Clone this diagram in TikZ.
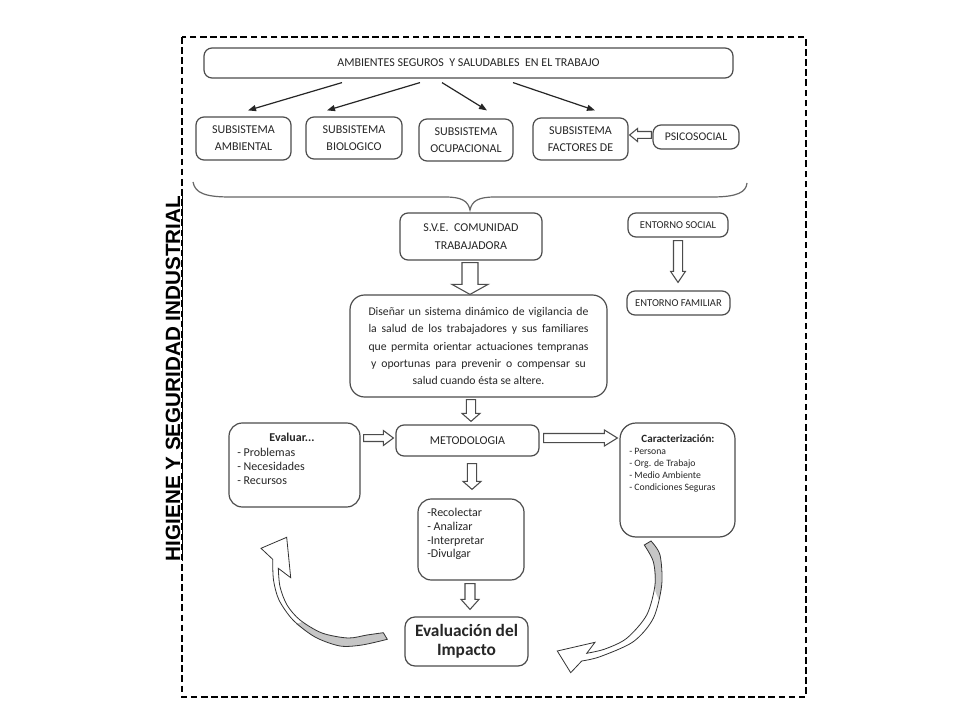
\documentclass[tikz,border=0pt]{standalone}
\usepackage{fontspec}
\setmainfont{Carlito}
\newfontfamily\arialb{Liberation Sans}
\usetikzlibrary{calc,arrows.meta}
\newcommand\blkarrow[5]{%
  \path ($(#2)!#5!(#1)$) coordinate (blkH);
  \draw[blk] ($(#1)!#3!90:(#2)$) -- ($(blkH)!#3!90:(#2)$) -- ($(blkH)!#4!90:(#2)$) -- (#2) -- ($(blkH)!#4!-90:(#2)$) -- ($(blkH)!#3!-90:(#2)$) -- ($(#1)!#3!-90:(#2)$) -- cycle;
}
\begin{document}
\begin{tikzpicture}[x=0.75pt,y=-0.75pt,
  box/.style={draw=black!70, line width=0.9pt, rounded corners=6pt, fill=white, inner sep=0pt, align=center, text=black!85},
  blk/.style={draw=black!70, line width=0.8pt, fill=white, line join=miter},
  arr/.style={draw=black!85, line width=0.9pt, -{Triangle[length=6pt,width=4.5pt]}},
  txt/.style={inner sep=0pt, text=black!85},
  fnine/.style={font=\fontsize{9}{12.75}\selectfont},
  flist/.style={font=\fontsize{9}{11}\selectfont},
  fcar/.style={font=\fontsize{7.3}{9}\selectfont},
  curv/.style={draw=black!80, line width=0.6pt, line join=miter},
]
\useasboundingbox (0,0) rectangle (960,720);
\fill[white] (0,0) rectangle (960,720);

% dashed frame
\draw[line width=1.5pt, dash pattern=on 5pt off 2.6pt] (182,37) rectangle (806,697);

% vertical title
\node[rotate=90, anchor=base, inner sep=0pt, font=\arialb\bfseries\fontsize{15.5}{18}\selectfont] (title) at (180,378.5) {\underline{HIGIENE Y SEGURIDAD INDUSTRIAL}};

% top row
\node[box, minimum width=396.75pt, minimum height=22.5pt, font=\fontsize{9}{11}\selectfont] (top) at (468.5,63) {AMBIENTES SEGUROS\ \ Y SALUDABLES\ \ EN EL TRABAJO};
\node[box, minimum width=71.25pt, minimum height=32.25pt, fnine] (sub1) at (243.5,138.5) {SUBSISTEMA\\AMBIENTAL};
\node[box, minimum width=72pt, minimum height=31.5pt, fnine] (sub2) at (354,138) {SUBSISTEMA\\BIOLOGICO};
\node[box, minimum width=70.5pt, minimum height=31.5pt, fnine] (sub3) at (466,140) {SUBSISTEMA\\OCUPACIONAL};
\node[box, minimum width=71.25pt, minimum height=31.5pt, fnine] (sub4) at (580.5,139) {SUBSISTEMA\\FACTORES DE};
\node[box, minimum width=64.5pt, minimum height=18pt, font=\fontsize{8.8}{10}\selectfont] (psico) at (696,137) {PSICOSOCIAL};

\draw[arr] ($(top.south)+(-126.5,4)$) -- ($(sub1.north)+(4.5,-6)$);
\draw[arr] ($(top.south)+(-48.5,4)$) -- ($(sub2.north)+(-27,-6)$);
\draw[arr] ($(top.south)+(-26.5,4)$) -- ($(sub3.north)+(21,-8)$);
\draw[arr] ($(top.south)+(44.5,4)$) -- ($(sub4.north)+(14.5,-7)$);

\coordinate (ps1) at ($(psico.west)+(-1,-2)$);
\coordinate (ps2) at ($(sub4.east)+(1,-4)$);
\blkarrow{ps1}{ps2}{2.6pt}{4.9pt}{6pt}

% brace
\draw[black!60, line width=0.9pt] (193,182) .. controls (195,193) and (205,197) .. (230,197) -- (445,197) .. controls (462,197) and (468,201) .. (470,210) .. controls (472,201) and (478,197) .. (495,197) -- (712,197) .. controls (738,197) and (746,192) .. (747,183);

% middle
\node[box, minimum width=106.5pt, minimum height=35.25pt, font=\fontsize{9}{13.5}\selectfont] (sve) at (471,236.5) {S.V.E.\ \ COMUNIDAD\\TRABAJADORA};
\node[box, minimum width=75pt, minimum height=18pt, font=\fontsize{7.9}{9}\selectfont] (esoc) at (678,225) {ENTORNO SOCIAL};
\node[box, minimum width=77.25pt, minimum height=18pt, font=\fontsize{7.9}{9}\selectfont] (efam) at (678.5,303) {ENTORNO FAMILIAR};
\node[box, rounded corners=11pt, minimum width=192.75pt, minimum height=76.5pt, font=\fontsize{8.8}{13.1}\selectfont] (dis) at (478.5,346) {%
\makebox[165pt][s]{Diseñar un sistema dinámico de vigilancia de}\\
\makebox[165pt][s]{la salud de los trabajadores y sus familiares}\\
\makebox[165pt][s]{que permita orientar actuaciones tempranas}\\
\makebox[161pt][s]{y oportunas para prevenir o compensar su}\\
salud cuando ésta se altere.};

\coordinate (sd1) at ($(sve.south)+(-1,2)$);
\coordinate (sd2) at ($(dis.north)+(-8.5,0)$);
\blkarrow{sd1}{sd2}{6pt}{13.5pt}{7.5pt}
\coordinate (ef1) at ($(esoc.south)+(0,3)$);
\coordinate (ef2) at ($(efam.north)+(-0.5,-8)$);
\blkarrow{ef1}{ef2}{3.4pt}{5.6pt}{8.3pt}

% methodology row
\node[box, rounded corners=10pt, minimum width=98.25pt, minimum height=63pt] (eval) at (294.5,465) {};
\node[box, minimum width=107.25pt, minimum height=23.25pt, font=\fontsize{9}{11}\selectfont] (met) at (467.5,440.5) {METODOLOGIA};
\node[box, rounded corners=12pt, minimum width=86.25pt, minimum height=85.5pt] (car) at (677.5,480) {};
\node[box, rounded corners=10pt, minimum width=79.5pt, minimum height=60.75pt] (rec) at (471,539.5) {};
\node[box, rounded corners=7.5pt, minimum width=92.25pt, minimum height=36.75pt, font=\fontsize{13}{14.5}\selectfont\bfseries] (imp) at (466.5,641.5) {Evaluación del\\Impacto};

\node[txt, font=\fontsize{9}{11}\selectfont\bfseries, anchor=base] (evT) at (292,441.5) {Evaluar...};
\node[txt, flist, anchor=base west] (ev1) at (237,456) {- Problemas};
\node[txt, flist, anchor=base west] (ev2) at (237,470.5) {- Necesidades};
\node[txt, flist, anchor=base west] (ev3) at (237,484.5) {- Recursos};

\node[txt, font=\fontsize{8.3}{10}\selectfont\bfseries, anchor=base] (caT) at (678,442.5) {Caracterización:};
\node[txt, fcar, anchor=base west] (ca1) at (629,454.5) {- Persona};
\node[txt, fcar, anchor=base west] (ca2) at (629,466.3) {- Org. de Trabajo};
\node[txt, fcar, anchor=base west] (ca3) at (629,478) {- Medio Ambiente};
\node[txt, fcar, anchor=base west] (ca4) at (629,490) {- Condiciones Seguras};

\node[txt, flist, anchor=base west] (re1) at (427,516.5) {-Recolectar};
\node[txt, flist, anchor=base west] (re2) at (427,530.5) {- Analizar};
\node[txt, flist, anchor=base west] (re3) at (427,544) {-Interpretar};
\node[txt, flist, anchor=base west] (re4) at (427,557.5) {-Divulgar};

\coordinate (dm1) at ($(dis.south)+(-7.5,2)$);
\coordinate (dm2) at ($(met.north)+(3.5,-3)$);
\blkarrow{dm1}{dm2}{3.5pt}{6.75pt}{6pt}
\coordinate (em1) at ($(eval.east)+(3,-27)$);
\coordinate (em2) at ($(met.west)+(-2,-2.5)$);
\blkarrow{em1}{em2}{2.6pt}{5.6pt}{7.5pt}
\coordinate (mc1) at ($(met.east)+(4,-2.5)$);
\coordinate (mc2) at ($(car.west)+(-2,-42)$);
\blkarrow{mc1}{mc2}{3.4pt}{6pt}{9.75pt}
\coordinate (mr1) at ($(met.south)+(4.5,7)$);
\coordinate (mr2) at ($(rec.north)+(1,-9)$);
\blkarrow{mr1}{mr2}{3.5pt}{6.75pt}{6pt}
\coordinate (ri1) at ($(rec.south)+(-1,3)$);
\coordinate (ri2) at ($(imp.north)+(3.5,-7)$);
\blkarrow{ri1}{ri2}{3.75pt}{6.75pt}{7.5pt}

% left curved arrow
\fill[white] plot[smooth] coordinates {(272.7,559.3) (273.5,580) (279,600) (293,620) (315,637) (340,646) (362,645) (387.3,639.3)} -- plot[smooth] coordinates {(383.3,632.7) (367,635) (348,638) (322,633) (300,620) (287,605) (280,586.7) (278.3,568.3)} -- (290.7,577.7) -- (286.7,537.3) -- (261,548.3) -- cycle;
\fill[gray!45] plot[smooth] coordinates {(296,624) (315,637) (340,646) (362,645) (387.3,639.3)} -- plot[smooth] coordinates {(383.3,632.7) (367,635) (348,638) (322,633) (302,622)} -- cycle;
\draw[curv] plot[smooth] coordinates {(272.7,559.3) (273.5,580) (279,600) (293,620) (315,637) (340,646) (362,645) (387.3,639.3)} -- plot[smooth] coordinates {(383.3,632.7) (367,635) (348,638) (322,633) (300,620) (287,605) (280,586.7) (278.3,568.3)} -- (290.7,577.7) -- (286.7,537.3) -- (261,548.3) -- cycle;

% right curved arrow
\fill[white] (557.3,651) -- (595,642.3) -- plot[smooth] coordinates {(586.7,653.3) (605,649) (626.7,638.3) (646.7,615) (655,585) (653.3,561.7) (644.3,545)} -- plot[smooth] coordinates {(651,541) (660,555) (661.7,585) (653.3,618.3) (633.3,641.7) (600,656.7) (581.7,661)} -- (570.7,672.7) -- cycle;
\fill[gray!45] plot[smooth] coordinates {(655.5,592) (655,585) (653.3,561.7) (644.3,545)} -- plot[smooth] coordinates {(651,541) (660,555) (661.7,585) (659,600)} -- cycle;
\draw[curv] (557.3,651) -- (595,642.3) -- plot[smooth] coordinates {(586.7,653.3) (605,649) (626.7,638.3) (646.7,615) (655,585) (653.3,561.7) (644.3,545)} -- plot[smooth] coordinates {(651,541) (660,555) (661.7,585) (653.3,618.3) (633.3,641.7) (600,656.7) (581.7,661)} -- (570.7,672.7) -- cycle;
\end{tikzpicture}
\end{document}
